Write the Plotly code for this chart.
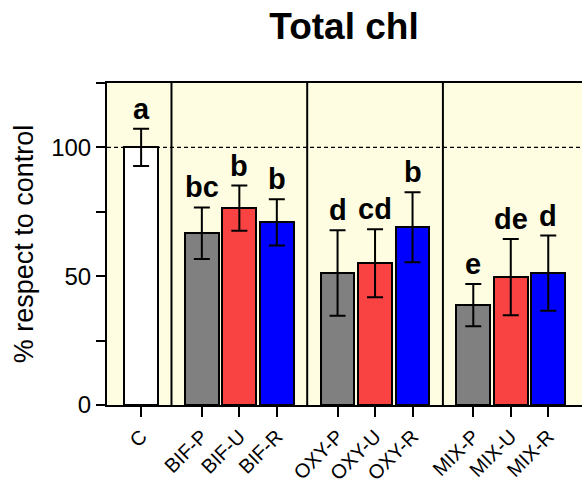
import plotly.graph_objects as go

# ---- data ----
groups = [["C"], ["BIF-P", "BIF-U", "BIF-R"], ["OXY-P", "OXY-U", "OXY-R"], ["MIX-P", "MIX-U", "MIX-R"]]
categories = ["C", "BIF-P", "BIF-U", "BIF-R", "OXY-P", "OXY-U", "OXY-R", "MIX-P", "MIX-U", "MIX-R"]
means = [100, 66.7, 76.4, 70.9, 51.2, 55.0, 69.0, 38.8, 49.6, 51.2]
errors = [7.2, 10.0, 8.8, 9.0, 16.6, 13.2, 13.6, 8.2, 14.8, 14.6]
letters = ["a", "bc", "b", "b", "d", "cd", "b", "e", "de", "d"]
colors = ["#FFFFFF", "#808080", "#F94242", "#0000FF", "#808080", "#F94242", "#0000FF", "#808080", "#F94242", "#0000FF"]
y_ticks = [0, 50, 100]

# ---- layout positions (group structure) ----
GAP = 1.62
xpos = []
seps = []
cur = 0.0
for gi, g in enumerate(groups):
    if gi > 0:
        seps.append(cur - 1 + GAP / 2)
        cur = cur - 1 + GAP
    for _ in g:
        xpos.append(cur)
        cur += 1
last = xpos[-1]

FONT = "Arial, Liberation Sans, sans-serif"

fig = go.Figure()
fig.add_trace(go.Bar(
    x=xpos, y=means, width=0.9,
    marker=dict(color=colors, line=dict(color="black", width=2)),
    error_y=dict(type="data", array=errors, visible=True, color="black", thickness=2, width=8),
    showlegend=False,
))

for x, m, e, t in zip(xpos, means, errors, letters):
    fig.add_annotation(x=x, y=m + e, text="<b>%s</b>" % t, showarrow=False,
                       yanchor="bottom", yshift=2,
                       font=dict(family=FONT, size=29, color="black"))

for s in seps:
    fig.add_shape(type="line", xref="x", yref="paper", x0=s, x1=s, y0=0, y1=1,
                  line=dict(color="black", width=2), layer="above")

fig.add_shape(type="line", xref="paper", yref="y", x0=0, x1=1, y0=100, y1=100,
              line=dict(color="black", width=1.3, dash="4px,3px"), layer="above")

fig.update_layout(
    width=582, height=486,
    margin=dict(l=107, r=0, t=83, b=81),
    paper_bgcolor="white",
    plot_bgcolor="#FEFDE1",
    font=dict(family=FONT, color="black"),
    title=dict(text="<b>Total chl</b>", x=344 / 582, xanchor="center",
               y=1 - 26 / 486, yanchor="middle", font=dict(size=37, family=FONT)),
    bargap=0,
)

fig.update_xaxes(
    range=[-0.91, last + 0.9], automargin=False,
    tickmode="array", tickvals=xpos, ticktext=categories, tickangle=-45,
    ticks="outside", ticklen=10, tickwidth=2, tickcolor="black",
    showline=True, linecolor="black", linewidth=2, mirror=True,
    showgrid=False, zeroline=False,
    tickfont=dict(size=20, family=FONT),
)
fig.update_yaxes(
    range=[0, 125], automargin=False,
    tickmode="array", tickvals=y_ticks,
    ticks="outside", ticklen=9, tickwidth=2, tickcolor="black",
    minor=dict(tickmode="array", tickvals=[25, 75, 125], ticks="outside", ticklen=9, tickwidth=2, tickcolor="black", showgrid=False),
    showline=True, linecolor="black", linewidth=2,
    showgrid=False, zeroline=False,
    tickfont=dict(size=24, family=FONT),
    title=dict(text="% respect to control", font=dict(size=27, family=FONT), standoff=10),
)

fig.write_html("out.html")
